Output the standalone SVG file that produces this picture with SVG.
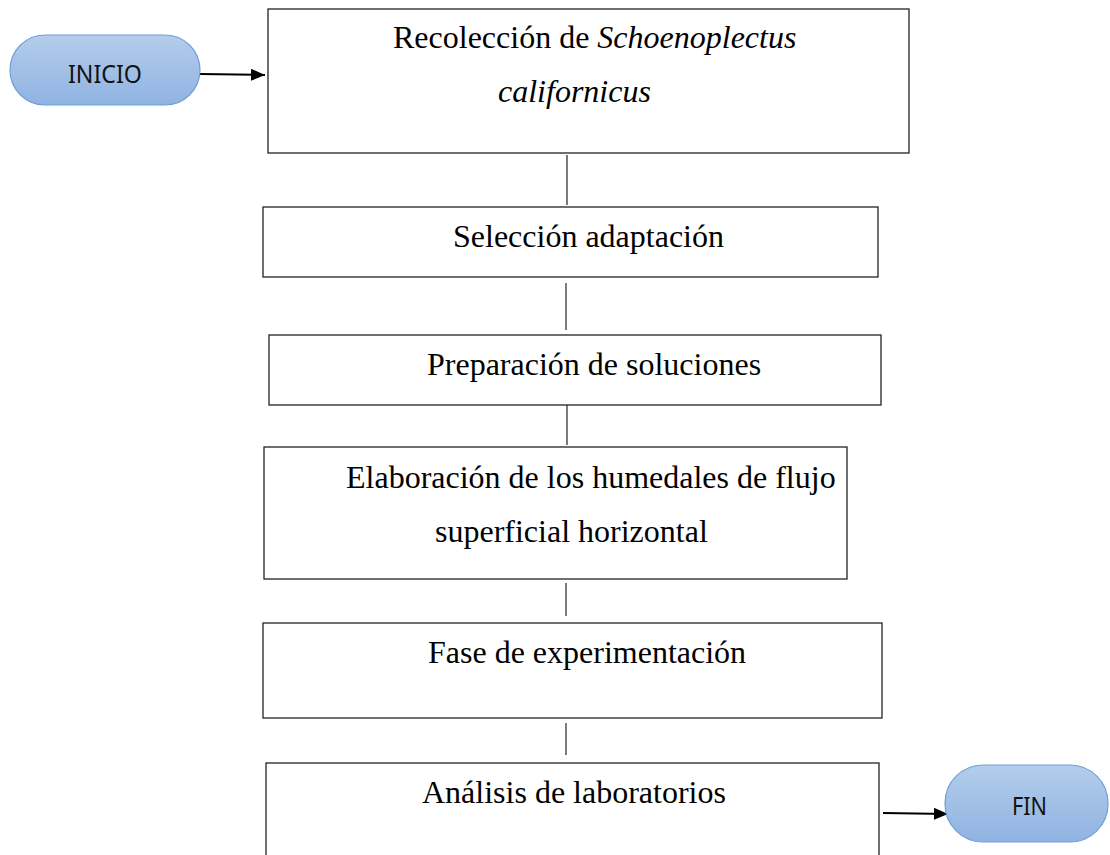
<svg xmlns="http://www.w3.org/2000/svg" width="1110" height="855" viewBox="0 0 1110 855">
<style>
.box{fill:#fff;stroke:#222;stroke-width:1.3}
.t{font-family:"Liberation Serif","Times New Roman",serif;font-size:32px;fill:#000}
.pill{fill:url(#g);stroke:#6f9fd6;stroke-width:1.2}
.pt{font-family:"Noto Sans","Open Sans",sans-serif;font-size:25px;fill:#111}
.ln{stroke:#222;stroke-width:1.2;fill:none}
.ar{stroke:#000;stroke-width:2;fill:none}
</style>
<defs>
<linearGradient id="g" x1="0" y1="0" x2="0" y2="1">
<stop offset="0" stop-color="#b4cdeb"/>
<stop offset="1" stop-color="#8fb3e2"/>
</linearGradient>
<marker id="ah" markerWidth="14" markerHeight="12" refX="14" refY="6" orient="auto" markerUnits="userSpaceOnUse">
<path d="M0,0 L14,6 L0,12 Z" fill="#000"/>
</marker>
</defs>
<rect width="1110" height="855" fill="#fff"/>
<g id="connectors">
<line class="ln" x1="567" y1="155" x2="567" y2="205"/>
<line class="ln" x1="566" y1="283" x2="566" y2="330"/>
<line class="ln" x1="567" y1="405" x2="567" y2="445"/>
<line class="ln" x1="566" y1="583" x2="566" y2="616"/>
<line class="ln" x1="566" y1="723" x2="566" y2="755"/>
<line class="ar" x1="200" y1="74" x2="265" y2="75" marker-end="url(#ah)"/>
<line class="ar" x1="883" y1="813" x2="948" y2="814" marker-end="url(#ah)"/>
</g>
<g id="inicio">
<rect class="pill" x="10" y="35" width="190" height="70" rx="35"/>
<text class="pt" x="68" y="83" textLength="74" lengthAdjust="spacingAndGlyphs">INICIO</text>
</g>
<g id="recoleccion">
<rect class="box" x="268" y="9" width="641" height="144"/>
<text class="t" x="393" y="48">Recolección de <tspan font-style="italic">Schoenoplectus</tspan></text>
<text class="t" x="498" y="102" font-style="italic">californicus</text>
</g>
<g id="seleccion">
<rect class="box" x="263" y="207" width="615" height="70"/>
<text class="t" x="453" y="247">Selección adaptación</text>
</g>
<g id="preparacion">
<rect class="box" x="269" y="335" width="612" height="70"/>
<text class="t" x="427" y="375">Preparación de soluciones</text>
</g>
<g id="elaboracion">
<rect class="box" x="264" y="447" width="583" height="132"/>
<text class="t" x="346" y="488">Elaboración de los humedales de flujo</text>
<text class="t" x="435" y="542">superficial horizontal</text>
</g>
<g id="fase">
<rect class="box" x="263" y="623" width="619" height="95"/>
<text class="t" x="428" y="663">Fase de experimentación</text>
</g>
<g id="analisis">
<rect class="box" x="266" y="763" width="613" height="100"/>
<text class="t" x="422" y="803">Análisis de laboratorios</text>
</g>
<g id="fin">
<rect class="pill" x="945" y="765" width="163" height="77" rx="38"/>
<text class="pt" x="1012" y="815" textLength="35" lengthAdjust="spacingAndGlyphs">FIN</text>
</g>
</svg>
